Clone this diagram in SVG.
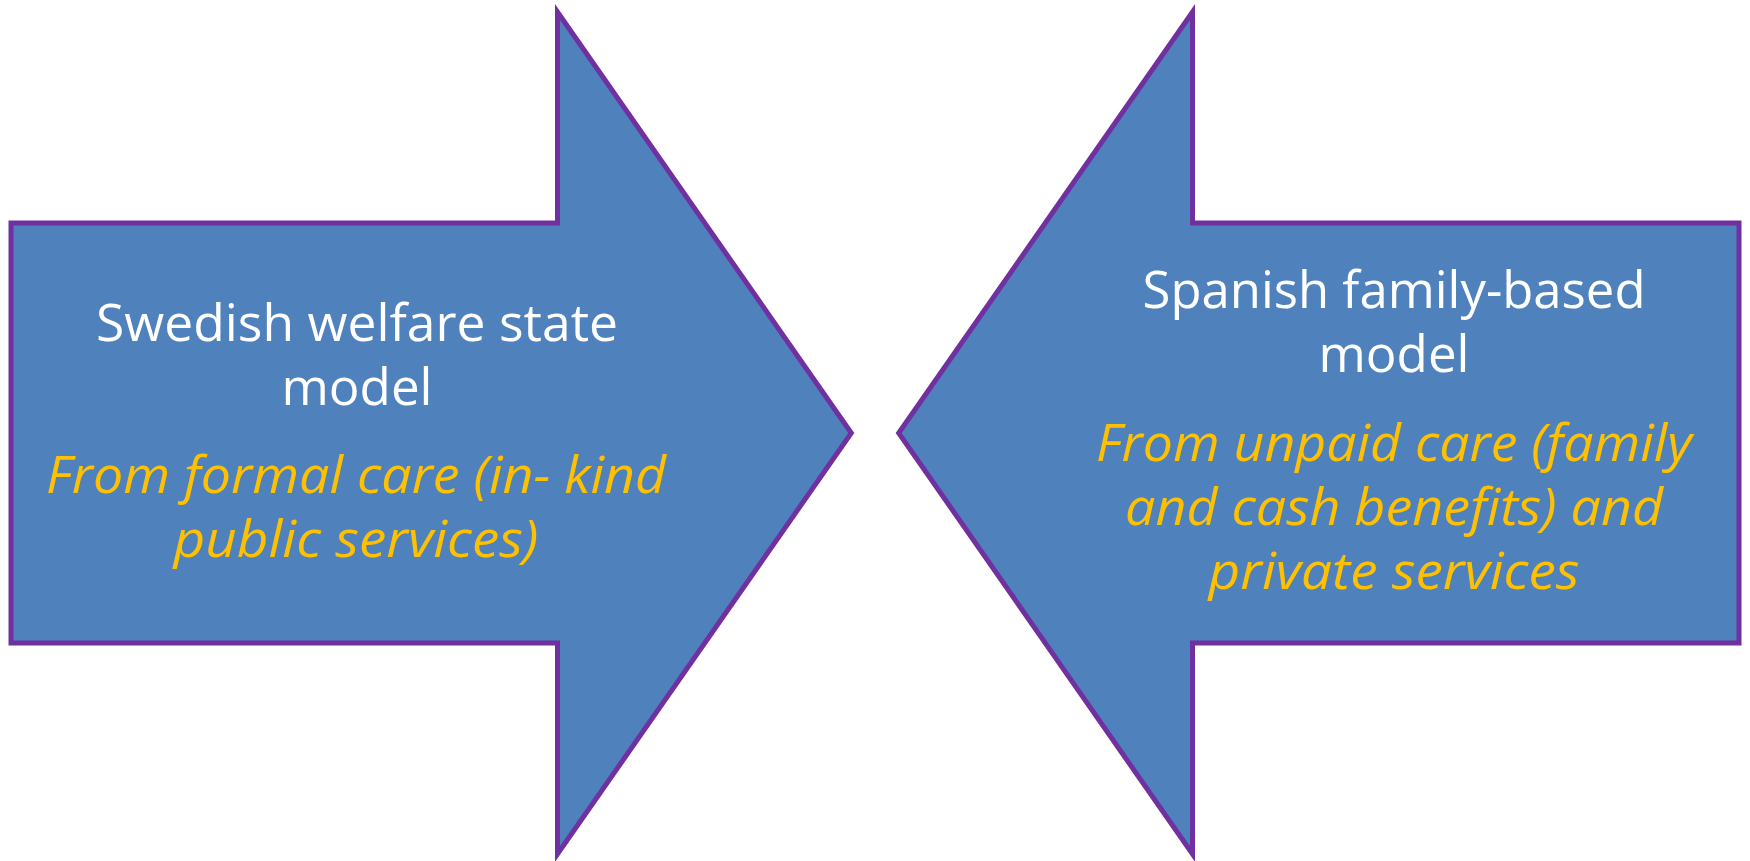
<svg xmlns="http://www.w3.org/2000/svg" width="1750" height="861" viewBox="0 0 1750 861">
<style>
.arrow{fill:#4F81BD;stroke:#7030A0;stroke-width:5;stroke-linejoin:miter}
.t{font-family:"Open Sans","Noto Sans","Liberation Sans",sans-serif;font-size:52px;text-anchor:middle}
.w{fill:#FFFFFF}
.y{fill:#FFC000;font-style:italic}
</style>
<rect width="1750" height="861" fill="#FFFFFF"/>
<g id="node-swedish">
<polygon class="arrow" points="11,223 557.5,223 557.5,12 851.3,433 557.5,854 557.5,643 11,643"/>
<text class="t w" x="357" y="341" textLength="522" lengthAdjust="spacingAndGlyphs">Swedish welfare state</text>
<text class="t w" x="357" y="405" textLength="151" lengthAdjust="spacingAndGlyphs">model</text>
<text class="t y" x="356" y="493" textLength="620" lengthAdjust="spacingAndGlyphs">From formal care (in- kind</text>
<text class="t y" x="356" y="557" textLength="365" lengthAdjust="spacingAndGlyphs">public services)</text>
</g>
<g id="node-spanish">
<polygon class="arrow" points="1739,223 1192.5,223 1192.5,12 898.7,433 1192.5,854 1192.5,643 1739,643"/>
<text class="t w" x="1394" y="308" textLength="503" lengthAdjust="spacingAndGlyphs">Spanish family-based</text>
<text class="t w" x="1394" y="372" textLength="151" lengthAdjust="spacingAndGlyphs">model</text>
<text class="t y" x="1394" y="461" textLength="596" lengthAdjust="spacingAndGlyphs">From unpaid care (family</text>
<text class="t y" x="1394" y="525" textLength="538" lengthAdjust="spacingAndGlyphs">and cash benefits) and</text>
<text class="t y" x="1394" y="589" textLength="371" lengthAdjust="spacingAndGlyphs">private services</text>
</g>
<g id="connectors"></g>
</svg>
